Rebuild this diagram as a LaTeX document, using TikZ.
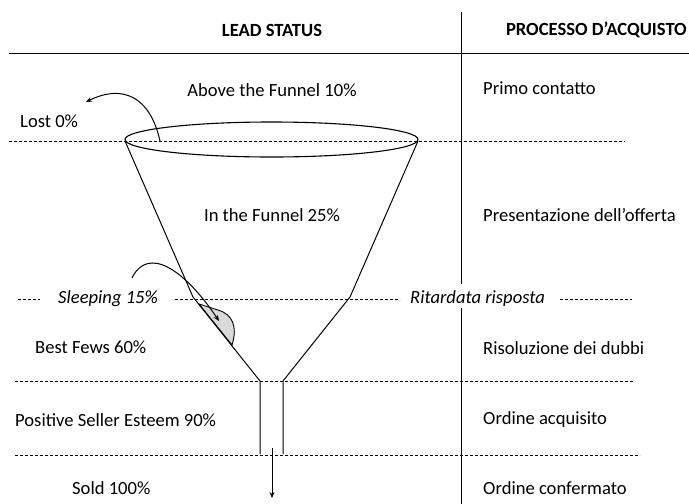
\documentclass[tikz,border=0pt]{standalone}
\usepackage{fontspec}
\setmainfont{Carlito}
\usetikzlibrary{arrows.meta}
\begin{document}
\begin{tikzpicture}[x=1pt,y=-1pt,
  lbl/.style={font=\fontsize{18.6}{20}\selectfont, inner sep=0pt},
  ital/.style={lbl, font=\fontsize{18.6}{20}\selectfont\itshape},
  hdr/.style={lbl, font=\fontsize{18.6}{20}\selectfont\bfseries},
  dline/.style={line width=0.9pt, dash pattern=on 3pt off 2pt},
  sline/.style={line width=1pt},
  arr/.style={line width=1pt, -{Stealth[length=6pt,width=5pt]}}
]
\useasboundingbox (0,0) rectangle (689,504);

% headers
\node[hdr] (hlead) at (272,30) {LEAD STATUS};
\node[hdr, anchor=east] (hproc) at (687,30) {PROCESSO D’ACQUISTO};
\draw[sline] (9,53) -- (689,53);
\draw[sline] (461,12) -- (461,284);
\draw[sline] (461,308) -- (461,504);

% left column labels
\node[lbl] (above) at (272,90) {Above the Funnel 10\%};
\node[lbl, anchor=west] (lost) at (20,121) {Lost 0\%};
\node[lbl] (infun) at (272,215) {In the Funnel 25\%};
\node[ital, anchor=west] (sleep) at (58,299) {Sleeping 15\%};
\node[lbl, anchor=west] (best) at (35,347) {Best Fews 60\%};
\node[lbl, anchor=west] (pos) at (15,420) {Positive Seller Esteem 90\%};
\node[lbl, anchor=west] (sold) at (72,488) {Sold 100\%};

% right column labels
\node[lbl, anchor=west] (primo) at (483,88) {Primo contatto};
\node[lbl, anchor=west] (pres) at (483,215) {Presentazione dell’offerta};
\node[ital, anchor=west] (rit) at (410,299) {Ritardata risposta};
\node[lbl, anchor=west] (ris) at (483,348) {Risoluzione dei dubbi};
\node[lbl, anchor=west] (ord) at (483,420) {Ordine acquisito};
\node[lbl, anchor=west] (conf) at (483,488) {Ordine confermato};

% dashed lines
\draw[dline] (9,141) -- (625,141);
\draw[dline] (18,299) -- (40,299);
\draw[dline] (175,299) -- (400,299);
\draw[dline] (560,299) -- (632,299);
\draw[dline] (15,381) -- (634,381);
\draw[dline] (15,455) -- (640,455);

% funnel
\coordinate (tl) at (125,141);
\coordinate (tr) at (418,141);
\coordinate (kl) at (193,297);
\coordinate (kr) at (350,297);
\coordinate (nl) at (260,381);
\coordinate (nr) at (283,381);
\coordinate (bl) at (260,454);
\coordinate (br) at (283,454);

% pocket
\draw[line width=0.9pt, fill=gray!30] (199,304) -- (218,310) .. controls (232,314) and (238,326) .. (232,345) -- cycle;

\draw[sline] (tl) -- (kl) -- (nl) -- (bl);
\draw[sline] (tr) -- (kr) -- (nr) -- (br);
\draw[line width=1.1pt] (271.5,139.5) ellipse [x radius=146.5, y radius=17.5];

% arrows
\coordinate (lostS) at (160,141);
\coordinate (lostE) at (86,102);
\draw[arr] (lostS) .. controls (150,96) and (122,84) .. (lostE);
\coordinate (sleepS) at (132,278);
\coordinate (sleepE) at (219,321);
\draw[arr] (sleepS) .. controls (148,245) and (185,270) .. (sleepE);
\coordinate (outS) at (272,448);
\coordinate (outE) at (272,498);
\draw[arr] (outS) -- (outE);
\end{tikzpicture}
\end{document}
